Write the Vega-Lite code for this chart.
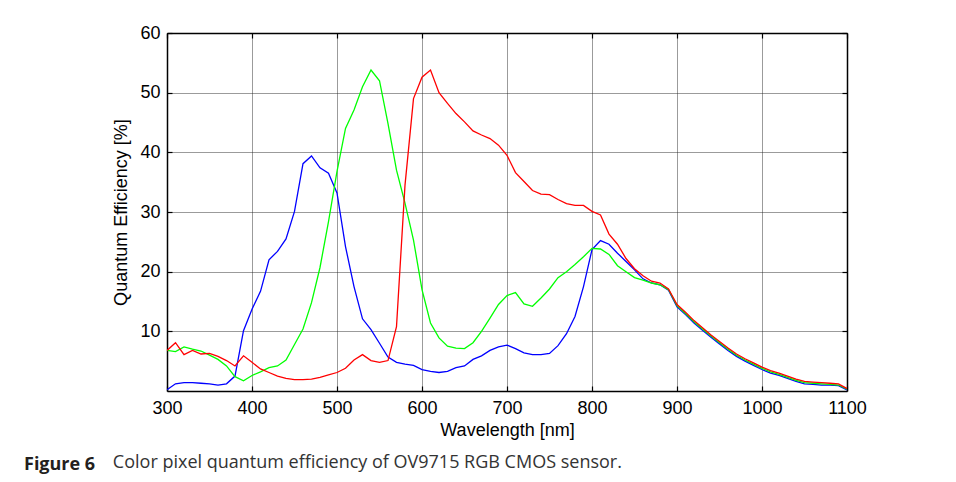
{
  "$schema": "https://vega.github.io/schema/vega-lite/v6.json",
  "width": 680,
  "height": 358,
  "autosize": "none",
  "padding": {"left": 167, "top": 33, "right": 109, "bottom": 91},
  "background": "white",
  "config": {
    "view": {"stroke": null},
    "axis": {
      "labelFont": "Liberation Sans",
      "labelFontSize": 18,
      "labelColor": "#000",
      "labelFlush": false,
      "titleFont": "Liberation Sans",
      "titleFontSize": 18,
      "titleFontWeight": "normal",
      "titleColor": "#000",
      "domainColor": "#000",
      "domainWidth": 1.5,
      "tickColor": "#000",
      "tickWidth": 1.2,
      "tickSize": -5,
      "gridColor": "#222",
      "gridDash": [1, 1],
      "gridOpacity": 0.9,
      "gridWidth": 1
    }
  },
  "title": {
    "text": "Figure 6",
    "subtitle": "\u200b\u00a0\u00a0\u00a0\u00a0\u00a0\u00a0\u00a0\u00a0\u00a0\u00a0\u00a0\u00a0\u00a0\u00a0\u00a0\u00a0\u00a0\u00a0\u00a0Color pixel quantum efficiency of OV9715 RGB CMOS sensor.",
    "orient": "bottom",
    "anchor": "start",
    "frame": "group",
    "dx": -143,
    "offset": 17,
    "font": "Open Sans",
    "fontWeight": "bold",
    "fontSize": 18,
    "color": "#231f20",
    "subtitleFont": "Open Sans",
    "subtitleFontSize": 18,
    "subtitleFontWeight": "normal",
    "subtitleColor": "#333",
    "subtitlePadding": -20
  },
  "data": {
    "values": [
      {"wl": 300, "R": 6.8, "G": 6.8, "B": 0.2},
      {"wl": 310, "R": 8.1, "G": 6.6, "B": 1.2},
      {"wl": 320, "R": 6.1, "G": 7.4, "B": 1.4},
      {"wl": 330, "R": 6.8, "G": 7.0, "B": 1.4},
      {"wl": 340, "R": 6.2, "G": 6.7, "B": 1.3},
      {"wl": 350, "R": 6.3, "G": 6.0, "B": 1.2},
      {"wl": 360, "R": 5.8, "G": 5.3, "B": 1.0},
      {"wl": 370, "R": 5.1, "G": 4.2, "B": 1.2},
      {"wl": 380, "R": 4.2, "G": 2.4, "B": 2.5},
      {"wl": 390, "R": 5.9, "G": 1.7, "B": 10.1},
      {"wl": 400, "R": 4.8, "G": 2.6, "B": 13.7},
      {"wl": 410, "R": 3.7, "G": 3.2, "B": 16.7},
      {"wl": 420, "R": 3.1, "G": 3.9, "B": 22.0},
      {"wl": 430, "R": 2.5, "G": 4.2, "B": 23.4},
      {"wl": 440, "R": 2.1, "G": 5.2, "B": 25.5},
      {"wl": 450, "R": 1.9, "G": 7.8, "B": 30.1},
      {"wl": 460, "R": 1.9, "G": 10.4, "B": 38.1},
      {"wl": 470, "R": 2.0, "G": 14.8, "B": 39.4},
      {"wl": 480, "R": 2.3, "G": 20.7, "B": 37.4},
      {"wl": 490, "R": 2.7, "G": 28.4, "B": 36.5},
      {"wl": 500, "R": 3.1, "G": 36.8, "B": 33.2},
      {"wl": 510, "R": 3.8, "G": 44.0, "B": 24.2},
      {"wl": 520, "R": 5.2, "G": 47.1, "B": 17.5},
      {"wl": 530, "R": 6.1, "G": 51.0, "B": 12.1},
      {"wl": 540, "R": 5.1, "G": 53.8, "B": 10.3},
      {"wl": 550, "R": 4.8, "G": 52.0, "B": 8.0},
      {"wl": 560, "R": 5.1, "G": 44.8, "B": 5.7},
      {"wl": 570, "R": 10.8, "G": 37.0, "B": 4.8},
      {"wl": 580, "R": 34.5, "G": 31.5, "B": 4.5},
      {"wl": 590, "R": 49.0, "G": 25.3, "B": 4.3},
      {"wl": 600, "R": 52.6, "G": 17.0, "B": 3.6},
      {"wl": 610, "R": 53.8, "G": 11.4, "B": 3.3},
      {"wl": 620, "R": 50.0, "G": 8.9, "B": 3.1},
      {"wl": 630, "R": 48.2, "G": 7.5, "B": 3.3},
      {"wl": 640, "R": 46.5, "G": 7.2, "B": 3.9},
      {"wl": 650, "R": 45.1, "G": 7.1, "B": 4.2},
      {"wl": 660, "R": 43.6, "G": 8.1, "B": 5.3},
      {"wl": 670, "R": 42.9, "G": 10.0, "B": 5.9},
      {"wl": 680, "R": 42.3, "G": 12.2, "B": 6.8},
      {"wl": 690, "R": 41.2, "G": 14.5, "B": 7.4},
      {"wl": 700, "R": 39.5, "G": 16.0, "B": 7.7},
      {"wl": 710, "R": 36.6, "G": 16.5, "B": 7.1},
      {"wl": 720, "R": 35.1, "G": 14.6, "B": 6.4},
      {"wl": 730, "R": 33.6, "G": 14.2, "B": 6.1},
      {"wl": 740, "R": 33.0, "G": 15.6, "B": 6.1},
      {"wl": 750, "R": 32.9, "G": 17.1, "B": 6.3},
      {"wl": 760, "R": 32.1, "G": 19.0, "B": 7.6},
      {"wl": 770, "R": 31.4, "G": 20.0, "B": 9.6},
      {"wl": 780, "R": 31.1, "G": 21.2, "B": 12.5},
      {"wl": 790, "R": 31.1, "G": 22.5, "B": 17.5},
      {"wl": 800, "R": 30.1, "G": 23.9, "B": 23.7},
      {"wl": 810, "R": 29.5, "G": 23.8, "B": 25.2},
      {"wl": 820, "R": 26.3, "G": 22.9, "B": 24.6},
      {"wl": 830, "R": 24.6, "G": 21.0, "B": 23.1},
      {"wl": 840, "R": 22.2, "G": 20.0, "B": 21.7},
      {"wl": 850, "R": 20.5, "G": 19.0, "B": 20.3},
      {"wl": 860, "R": 19.3, "G": 18.6, "B": 18.8},
      {"wl": 870, "R": 18.4, "G": 18.1, "B": 18.1},
      {"wl": 880, "R": 18.1, "G": 17.8, "B": 17.8},
      {"wl": 890, "R": 17.1, "G": 17.0, "B": 16.9},
      {"wl": 900, "R": 14.5, "G": 14.3, "B": 14.1},
      {"wl": 910, "R": 13.2, "G": 13.0, "B": 12.8},
      {"wl": 920, "R": 11.8, "G": 11.6, "B": 11.4},
      {"wl": 930, "R": 10.6, "G": 10.4, "B": 10.2},
      {"wl": 940, "R": 9.4, "G": 9.2, "B": 9.0},
      {"wl": 950, "R": 8.3, "G": 8.1, "B": 7.9},
      {"wl": 960, "R": 7.2, "G": 7.0, "B": 6.8},
      {"wl": 970, "R": 6.2, "G": 6.0, "B": 5.8},
      {"wl": 980, "R": 5.4, "G": 5.2, "B": 5.0},
      {"wl": 990, "R": 4.7, "G": 4.5, "B": 4.3},
      {"wl": 1000, "R": 4.0, "G": 3.8, "B": 3.6},
      {"wl": 1010, "R": 3.4, "G": 3.2, "B": 3.0},
      {"wl": 1020, "R": 3.0, "G": 2.8, "B": 2.6},
      {"wl": 1030, "R": 2.5, "G": 2.3, "B": 2.1},
      {"wl": 1040, "R": 2.0, "G": 1.8, "B": 1.6},
      {"wl": 1050, "R": 1.6, "G": 1.4, "B": 1.2},
      {"wl": 1060, "R": 1.5, "G": 1.3, "B": 1.1},
      {"wl": 1070, "R": 1.4, "G": 1.2, "B": 1.0},
      {"wl": 1080, "R": 1.3, "G": 1.1, "B": 1.0},
      {"wl": 1090, "R": 1.2, "G": 1.0, "B": 0.9},
      {"wl": 1100, "R": 0.4, "G": 0.3, "B": 0.2}
    ]
  },
  "transform": [{"fold": ["B", "G", "R"], "as": ["ch", "qe"]}],
  "layer": [
    {
      "mark": {"type": "line", "strokeWidth": 1.3, "clip": true},
      "encoding": {
        "x": {
          "field": "wl", "type": "quantitative",
          "scale": {"domain": [300, 1100], "nice": false, "zero": false},
          "axis": {
            "orient": "bottom",
            "values": [300, 400, 500, 600, 700, 800, 900, 1000, 1100],
            "format": "d",
            "title": "Wavelength [nm]",
            "labelPadding": 13,
            "titlePadding": 4,
            "grid": true
          }
        },
        "y": {
          "field": "qe", "type": "quantitative",
          "scale": {"domain": [0, 60], "nice": false},
          "axis": {
            "orient": "left",
            "values": [10, 20, 30, 40, 50, 60],
            "title": "Quantum Efficiency [%]",
            "labelPadding": 12,
            "titlePadding": 9,
            "grid": true
          }
        },
        "color": {
          "field": "ch", "type": "nominal",
          "scale": {"domain": ["R", "G", "B"], "range": ["#ff0000", "#00ff00", "#0000ff"]},
          "legend": null
        }
      }
    },
    {
      "mark": {"type": "line", "strokeOpacity": 0},
      "encoding": {
        "x": {
          "field": "wl", "type": "quantitative",
          "axis": {
            "orient": "top",
            "values": [300, 400, 500, 600, 700, 800, 900, 1000, 1100],
            "labels": false, "title": null, "grid": false
          }
        },
        "y": {
          "field": "qe", "type": "quantitative",
          "axis": {
            "orient": "right",
            "values": [10, 20, 30, 40, 50, 60],
            "labels": false, "title": null, "grid": false
          }
        },
        "detail": {"field": "ch"}
      }
    }
  ],
  "resolve": {"axis": {"x": "independent", "y": "independent"}}
}
